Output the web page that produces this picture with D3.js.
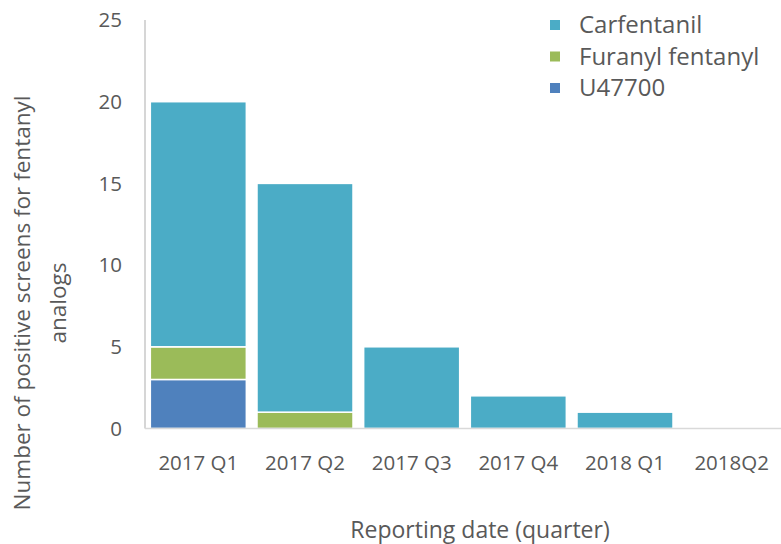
<!DOCTYPE html>
<html>
<head>
<meta charset="utf-8">
<script src="https://cdn.jsdelivr.net/npm/d3@7"></script>
<style>
  body { margin: 0; background: #fff; }
  text { font-family: "Open Sans", sans-serif; fill: #595959; }
</style>
</head>
<body>
<svg id="chart" width="781" height="544"></svg>
<script>
// data
const quarters = ["2017 Q1", "2017 Q2", "2017 Q3", "2017 Q4", "2018 Q1", "2018Q2"]
const u47700 = [3, 0, 0, 0, 0, 0]
const furanyl = [2, 1, 0, 0, 0, 0]
const carfentanil = [15, 14, 5, 2, 1, 0]
const seriesNames = ["U47700", "Furanyl fentanyl", "Carfentanil"]
const seriesColors = ["#4F81BD", "#9BBB59", "#4BACC6"]
const yTicks = [0, 5, 10, 15, 20, 25]

let rows = quarters.map((q, i) => ({
    quarter: q,
    "U47700": u47700[i],
    "Furanyl fentanyl": furanyl[i],
    "Carfentanil": carfentanil[i]
}))

let svg = d3.select("#chart")

let x = d3.scaleBand()
    .domain(quarters)
    .range([145, 785])
    .paddingInner(0.1)
    .paddingOuter(0.05)

let y = d3.scaleLinear()
    .domain([0, 25])
    .range([428.5, 20])

let color = d3.scaleOrdinal().domain(seriesNames).range(seriesColors)

let stacked = d3.stack().keys(seriesNames)(rows)

// bars
svg.append("g")
    .selectAll("g").data(stacked).enter().append("g")
    .attr("fill", d => color(d.key))
    .selectAll("rect").data(d => d).enter().append("rect")
    .attr("x", d => x(d.data.quarter))
    .attr("width", x.bandwidth())
    .attr("y", d => y(d[1]))
    .attr("height", d => y(d[0]) - y(d[1]))
    .attr("stroke", "#fff")
    .attr("stroke-width", 1.5)
    .style("display", d => d[1] - d[0] > 0 ? null : "none")

// y axis line and labels
svg.append("line")
    .attr("x1", 145).attr("x2", 145)
    .attr("y1", y(25)).attr("y2", y(0))
    .attr("stroke", "#c8c8c8").attr("stroke-width", 1.5)

svg.append("g")
    .selectAll("text").data(yTicks).enter().append("text")
    .attr("x", 122)
    .attr("y", d => y(d))
    .attr("dy", "0.35em")
    .attr("text-anchor", "end")
    .style("font-size", "20.5px")
    .text(d => d)

// baseline
svg.append("line")
    .attr("x1", 145).attr("x2", 781)
    .attr("y1", y(0)).attr("y2", y(0))
    .attr("stroke", "#d9d9d9").attr("stroke-width", 1.5)

// x labels
svg.append("g")
    .selectAll("text").data(quarters).enter().append("text")
    .attr("x", d => x(d) + x.bandwidth() / 2)
    .attr("y", 470)
    .attr("text-anchor", "middle")
    .style("font-size", "20.5px")
    .text(d => d)

// axis titles
svg.append("text")
    .attr("x", 480).attr("y", 538)
    .attr("text-anchor", "middle")
    .style("font-size", "23px")
    .text("Reporting date (quarter)")

let ytitle = svg.append("text")
    .attr("transform", "translate(30,303) rotate(-90)")
    .attr("text-anchor", "middle")
    .style("font-size", "22.5px")
ytitle.append("tspan").attr("x", 0).attr("y", 0).text("Number of positive screens for fentanyl")
ytitle.append("tspan").attr("x", 0).attr("y", 36).text("analogs")

// legend
let legendItems = ["Carfentanil", "Furanyl fentanyl", "U47700"]
let legend = svg.append("g")
    .selectAll("g").data(legendItems).enter().append("g")
    .attr("transform", (d, i) => "translate(550," + (25 + i * 31.5) + ")")
legend.append("rect")
    .attr("x", 0).attr("y", -5)
    .attr("width", 10).attr("height", 10)
    .attr("fill", d => color(d))
legend.append("text")
    .attr("x", 29).attr("y", 0)
    .attr("dy", "0.35em")
    .style("font-size", "24px")
    .text(d => d)
</script>
</body>
</html>
